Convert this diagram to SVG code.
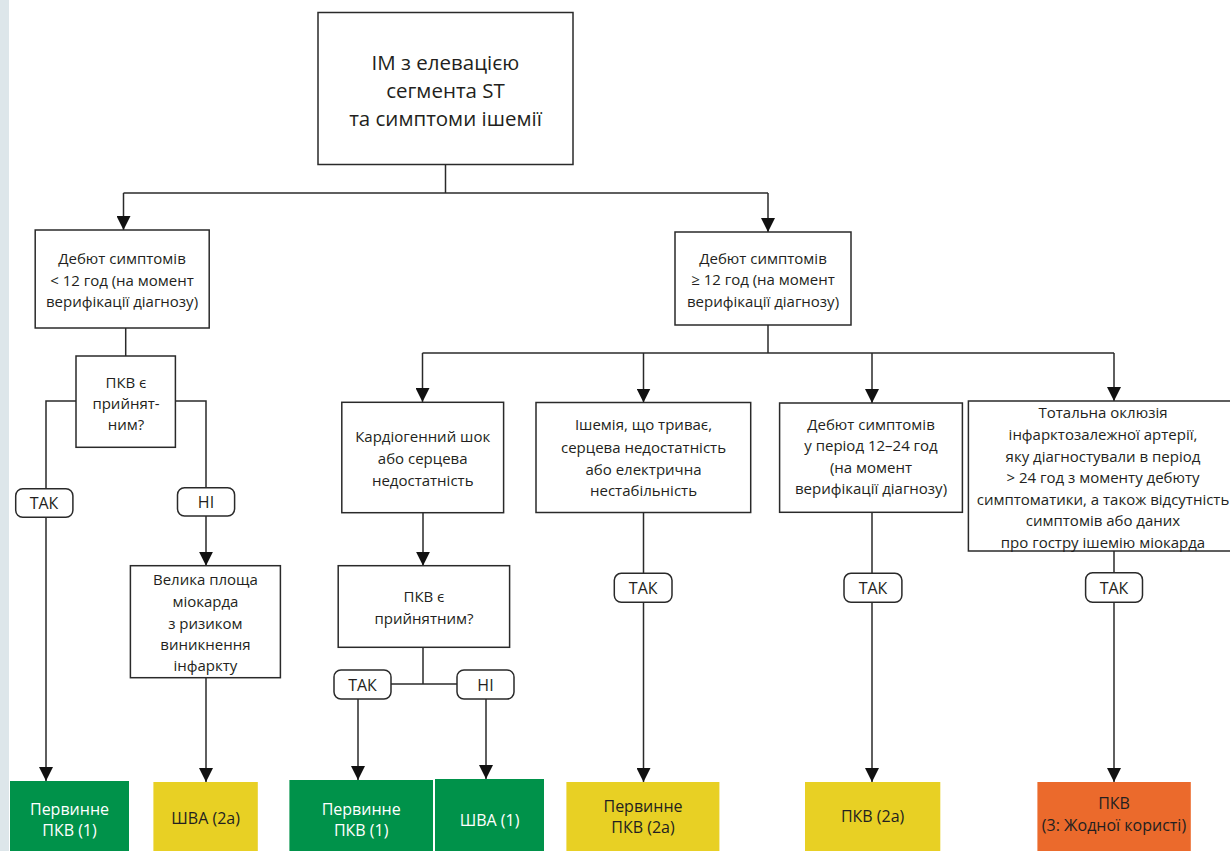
<svg xmlns="http://www.w3.org/2000/svg" width="1230" height="851" viewBox="0 0 1230 851">
<style>
  .box{fill:#fff;stroke:#2a2a2a;stroke-width:1.5}
  .lbl{fill:#fff;stroke:#2a2a2a;stroke-width:1.5}
  .t{font-family:"Open Sans","Noto Sans",sans-serif;font-size:15px;fill:#231f20;text-anchor:middle}
  .big{font-size:20.5px}
  .lt{font-size:16px}
  .rt{font-family:"Open Sans","Noto Sans",sans-serif;font-size:16px;text-anchor:middle}
  .w{fill:#fff}
  .d{fill:#231f20}
  .c{fill:none;stroke:#2a2a2a;stroke-width:1.5}
  .green{fill:#00924a}
  .yellow{fill:#e8d024}
  .orange{fill:#eb6a2c}
</style>
<defs>
  <marker id="arr" markerUnits="userSpaceOnUse" markerWidth="14" markerHeight="14" viewBox="0 0 14 14" refX="14" refY="7" orient="auto">
    <path d="M0,0 L14,7 L0,14 Z" fill="#111"/>
  </marker>
</defs>
<rect x="0" y="0" width="9" height="851" fill="#dde6ea"/>

<g id="connectors">
  <path class="c" d="M445.5,165 V193"/>
  <path class="c" d="M123.5,193 H768"/>
  <path class="c" d="M123.5,193 V230" marker-end="url(#arr)"/>
  <path class="c" d="M768,193 V232" marker-end="url(#arr)"/>
  <path class="c" d="M125.7,328 V356"/>
  <path class="c" d="M76,401 H46 V781" marker-end="url(#arr)"/>
  <path class="c" d="M175.4,401 H206 V565.7" marker-end="url(#arr)"/>
  <path class="c" d="M206,678 V782" marker-end="url(#arr)"/>
  <path class="c" d="M768,325 V353"/>
  <path class="c" d="M422.5,353 H1114"/>
  <path class="c" d="M422.5,353 V402" marker-end="url(#arr)"/>
  <path class="c" d="M643.5,353 V402.5" marker-end="url(#arr)"/>
  <path class="c" d="M872,353 V403" marker-end="url(#arr)"/>
  <path class="c" d="M1114,353 V401" marker-end="url(#arr)"/>
  <path class="c" d="M423,513 V565.7" marker-end="url(#arr)"/>
  <path class="c" d="M423,647 V684"/>
  <path class="c" d="M391,684 H457"/>
  <path class="c" d="M358,699 V780" marker-end="url(#arr)"/>
  <path class="c" d="M486,699 V779" marker-end="url(#arr)"/>
  <path class="c" d="M643.5,512.5 V782" marker-end="url(#arr)"/>
  <path class="c" d="M872,512.5 V782" marker-end="url(#arr)"/>
  <path class="c" d="M1114,551 V782" marker-end="url(#arr)"/>
</g>

<g id="n-top">
  <rect class="box" x="318" y="12.5" width="255" height="152"/>
  <text class="t big" x="445.5" y="70">ІМ з елевацією</text>
  <text class="t big" x="445.5" y="98">сегмента ST</text>
  <text class="t big" x="445.5" y="126">та симптоми ішемії</text>
</g>

<g id="n-lt12">
  <rect class="box" x="35.2" y="230" width="174" height="98"/>
  <text class="t" x="122" y="264">Дебют симптомів</text>
  <text class="t" x="122" y="286">&lt; 12 год (на момент</text>
  <text class="t" x="122" y="307">верифікації діагнозу)</text>
</g>

<g id="n-ge12">
  <rect class="box" x="675" y="232" width="176" height="93"/>
  <text class="t" x="763" y="264">Дебют симптомів</text>
  <text class="t" x="763" y="285">≥ 12 год (на момент</text>
  <text class="t" x="763" y="307">верифікації діагнозу)</text>
</g>

<g id="n-pci1">
  <rect class="box" x="76" y="356" width="99.4" height="91.3"/>
  <text class="t" x="126" y="388">ПКВ є</text>
  <text class="t" x="126" y="409">прийнят-</text>
  <text class="t" x="126" y="430">ним?</text>
</g>

<g id="l-yes1">
  <rect class="lbl" x="15.7" y="488.7" width="57.2" height="28.6" rx="7"/>
  <text class="t lt" x="44" y="509">ТАК</text>
</g>
<g id="l-no1">
  <rect class="lbl" x="177.5" y="487.7" width="57.1" height="28.3" rx="7"/>
  <text class="t lt" x="206" y="508">НІ</text>
</g>

<g id="n-large">
  <rect class="box" x="130.4" y="565.7" width="150" height="112"/>
  <text class="t" x="205.4" y="585">Велика площа</text>
  <text class="t" x="205.4" y="607">міокарда</text>
  <text class="t" x="205.4" y="628.5">з ризиком</text>
  <text class="t" x="205.4" y="649.5">виникнення</text>
  <text class="t" x="205.4" y="670.5">інфаркту</text>
</g>

<g id="n-shock">
  <rect class="box" x="341.8" y="402.3" width="161.8" height="110.4"/>
  <text class="t" x="422.7" y="442">Кардіогенний шок</text>
  <text class="t" x="422.7" y="464">або серцева</text>
  <text class="t" x="422.7" y="485.5">недостатність</text>
</g>

<g id="n-pci2">
  <rect class="box" x="338.2" y="565.7" width="171.4" height="81.6"/>
  <text class="t" x="424" y="602">ПКВ є</text>
  <text class="t" x="424" y="624">прийнятним?</text>
</g>

<g id="l-yes2">
  <rect class="lbl" x="334" y="670" width="57" height="29" rx="7"/>
  <text class="t lt" x="362.5" y="690.5">ТАК</text>
</g>
<g id="l-no2">
  <rect class="lbl" x="457" y="670" width="57" height="29" rx="7"/>
  <text class="t lt" x="485.5" y="690.5">НІ</text>
</g>

<g id="n-isch">
  <rect class="box" x="536" y="402.5" width="214.7" height="110"/>
  <text class="t" x="643.5" y="430">Ішемія, що триває,</text>
  <text class="t" x="643.5" y="452.5">серцева недостатність</text>
  <text class="t" x="643.5" y="474.5">або електрична</text>
  <text class="t" x="643.5" y="496">нестабільність</text>
</g>

<g id="n-1224">
  <rect class="box" x="779.6" y="403" width="182.8" height="109.3"/>
  <text class="t" x="871" y="429.5">Дебют симптомів</text>
  <text class="t" x="871" y="451">у період 12–24 год</text>
  <text class="t" x="871" y="472.5">(на момент</text>
  <text class="t" x="871" y="494">верифікації діагнозу)</text>
</g>

<g id="n-total">
  <rect class="box" x="968.4" y="401" width="275" height="150"/>
  <text class="t" x="1103" y="418">Тотальна оклюзія</text>
  <text class="t" x="1103" y="440">інфарктозалежної артерії,</text>
  <text class="t" x="1103" y="461.5">яку діагностували в період</text>
  <text class="t" x="1103" y="483">&gt; 24 год з моменту дебюту</text>
  <text class="t" x="1103" y="504.5">симптоматики, а також відсутність</text>
  <text class="t" x="1103" y="526">симптомів або даних</text>
  <text class="t" x="1103" y="547.5">про гостру ішемію міокарда</text>
</g>

<g id="l-yes3">
  <rect class="lbl" x="614.3" y="573.3" width="57.7" height="29" rx="7"/>
  <text class="t lt" x="643.2" y="594">ТАК</text>
</g>
<g id="l-yes4">
  <rect class="lbl" x="844" y="573.3" width="57.9" height="29" rx="7"/>
  <text class="t lt" x="873" y="594">ТАК</text>
</g>
<g id="l-yes5">
  <rect class="lbl" x="1085.6" y="572.7" width="56.9" height="29.6" rx="7"/>
  <text class="t lt" x="1114" y="594">ТАК</text>
</g>

<g id="r1">
  <rect class="green" x="10" y="781" width="119" height="70"/>
  <text class="rt w" x="69.5" y="815">Первинне</text>
  <text class="rt w" x="69.5" y="836">ПКВ (1)</text>
</g>
<g id="r2">
  <rect class="yellow" x="153.4" y="782" width="104.4" height="69"/>
  <text class="rt d" x="205.6" y="824">ШВА (2а)</text>
</g>
<g id="r3">
  <rect class="green" x="289.4" y="780" width="143.6" height="71"/>
  <text class="rt w" x="361.2" y="815">Первинне</text>
  <text class="rt w" x="361.2" y="836">ПКВ (1)</text>
</g>
<g id="r4">
  <rect class="green" x="435" y="779" width="109" height="72"/>
  <text class="rt w" x="489.5" y="826">ШВА (1)</text>
</g>
<g id="r5">
  <rect class="yellow" x="566.4" y="782" width="153" height="69"/>
  <text class="rt d" x="643" y="811.5">Первинне</text>
  <text class="rt d" x="643" y="832.5">ПКВ (2а)</text>
</g>
<g id="r6">
  <rect class="yellow" x="805" y="782" width="135.3" height="69"/>
  <text class="rt d" x="872.6" y="821.5">ПКВ (2а)</text>
</g>
<g id="r7">
  <rect class="orange" x="1037.4" y="782" width="153.4" height="69"/>
  <text class="rt d" x="1114" y="809">ПКВ</text>
  <text class="rt d" x="1114" y="831">(3: Жодної користі)</text>
</g>
</svg>
